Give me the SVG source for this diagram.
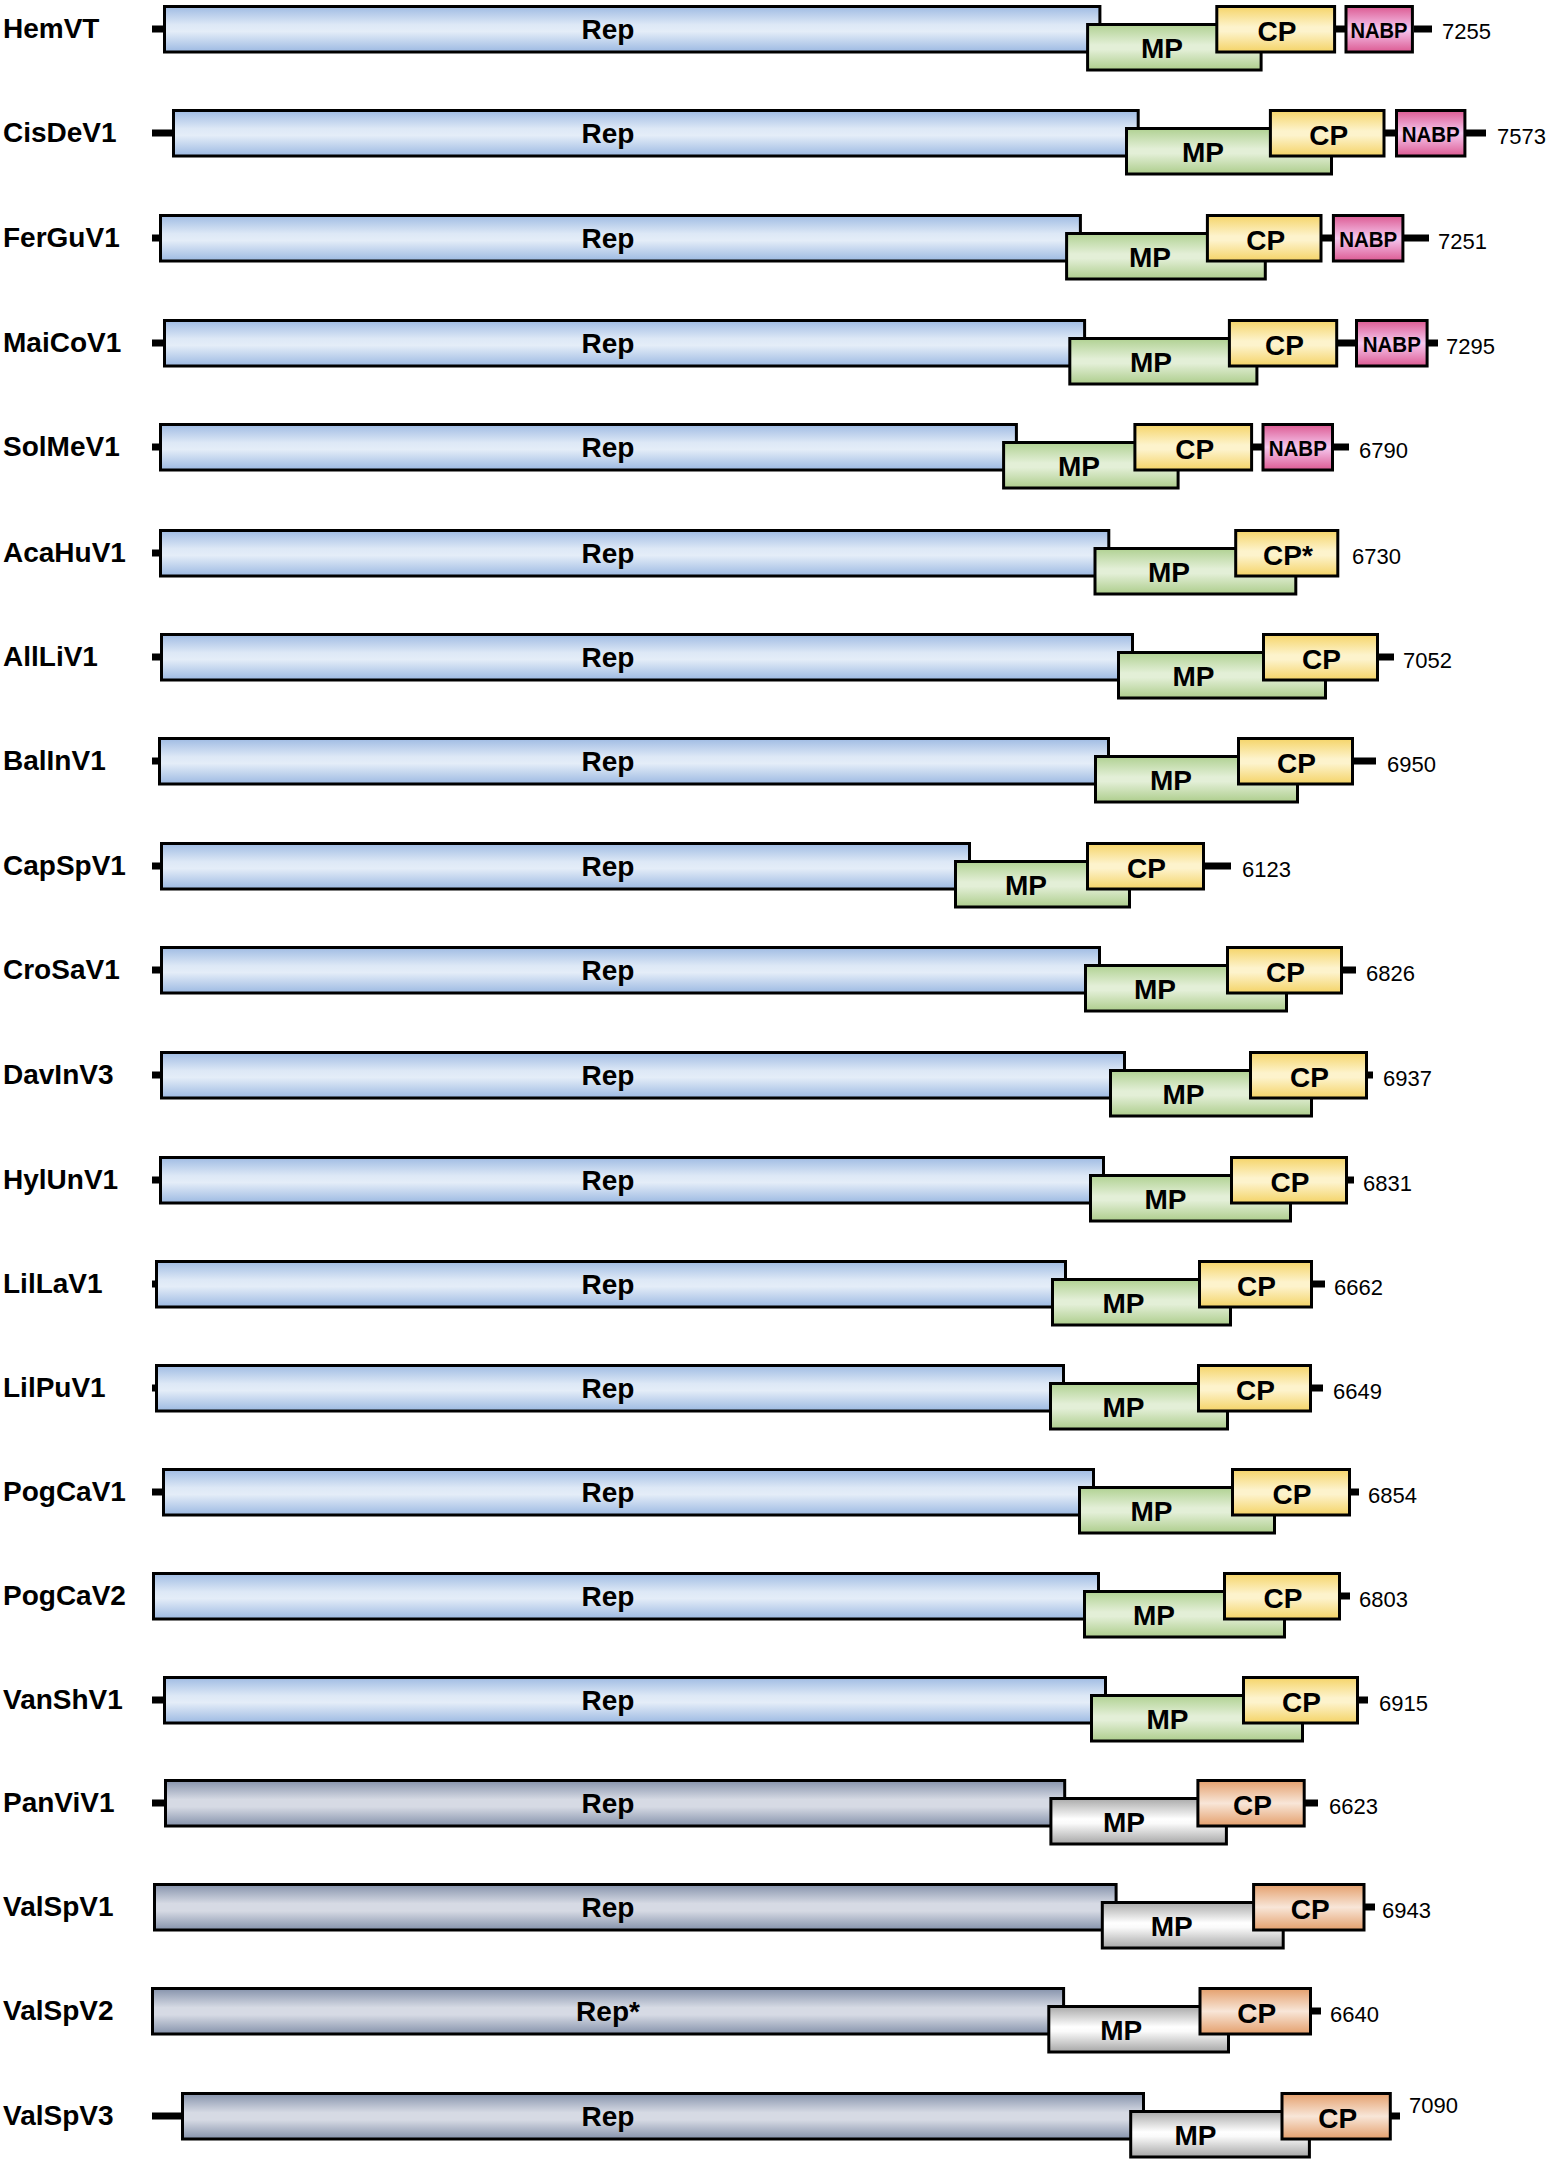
<svg xmlns="http://www.w3.org/2000/svg" width="1549" height="2162" viewBox="0 0 1549 2162">
<defs>
<linearGradient id="gRep" x1="0" y1="0" x2="0" y2="1"><stop offset="0" stop-color="#9fbbe3"/><stop offset="0.4" stop-color="#dde8f6"/><stop offset="0.55" stop-color="#e4edf8"/><stop offset="1" stop-color="#9cb9e2"/></linearGradient>
<linearGradient id="gMP" x1="0" y1="0" x2="0" y2="1"><stop offset="0" stop-color="#b0d192"/><stop offset="0.45" stop-color="#e3efd7"/><stop offset="0.55" stop-color="#e3efd7"/><stop offset="1" stop-color="#adcd8c"/></linearGradient>
<linearGradient id="gCP" x1="0" y1="0" x2="0" y2="1"><stop offset="0" stop-color="#f5d468"/><stop offset="0.45" stop-color="#fdf3cc"/><stop offset="0.55" stop-color="#fdf3cc"/><stop offset="1" stop-color="#f4d366"/></linearGradient>
<linearGradient id="gNABP" x1="0" y1="0" x2="0" y2="1"><stop offset="0" stop-color="#dc5a92"/><stop offset="0.5" stop-color="#f6c8ef"/><stop offset="1" stop-color="#dc5a92"/></linearGradient>
<linearGradient id="gRepG" x1="0" y1="0" x2="0" y2="1"><stop offset="0" stop-color="#8592ab"/><stop offset="0.42" stop-color="#d6dae4"/><stop offset="0.58" stop-color="#d6dae4"/><stop offset="1" stop-color="#8592ab"/></linearGradient>
<linearGradient id="gMPG" x1="0" y1="0" x2="0" y2="1"><stop offset="0" stop-color="#a9a9a9"/><stop offset="0.45" stop-color="#ffffff"/><stop offset="0.55" stop-color="#fafafa"/><stop offset="1" stop-color="#a6a6a6"/></linearGradient>
<linearGradient id="gCPO" x1="0" y1="0" x2="0" y2="1"><stop offset="0" stop-color="#e49f6c"/><stop offset="0.5" stop-color="#f8e6d8"/><stop offset="1" stop-color="#e49f6c"/></linearGradient>
</defs>
<style>
.rep,.mp,.cp,.nabp,.repg,.mpg,.cpo{stroke:#000;stroke-width:3}
.rep{fill:url(#gRep)}
.mp{fill:url(#gMP)}
.cp{fill:url(#gCP)}
.nabp{fill:url(#gNABP)}
.repg{fill:url(#gRepG)}
.mpg{fill:url(#gMPG)}
.cpo{fill:url(#gCPO)}
.ln{stroke:#000;stroke-width:7;fill:none}
text{font-family:"Liberation Sans",Arial,sans-serif;fill:#000}
.lab{font-size:28px;font-weight:bold}
.in{font-size:28px;font-weight:bold;text-anchor:middle}
.nb{font-size:22px;font-weight:bold;text-anchor:middle}
.num{font-size:22px}
</style>
<rect width="1549" height="2162" fill="#fff"/>
<g id="connectors">
<path class="ln" d="M152 29H163M1336 29H1345M1414 29H1432"/>
<path class="ln" d="M152 133H172M1385 133H1395M1466 133H1486"/>
<path class="ln" d="M152 238H159M1322 238H1332M1404 238H1429"/>
<path class="ln" d="M152 343H163M1338 343H1355M1428 343H1438"/>
<path class="ln" d="M152 447H159M1253 447H1262M1334 447H1349"/>
<path class="ln" d="M152 553H159"/>
<path class="ln" d="M152 657H160M1379 657H1394"/>
<path class="ln" d="M152 761H158M1354 761H1376"/>
<path class="ln" d="M152 866H160M1205 866H1231"/>
<path class="ln" d="M152 970H160M1343 970H1356"/>
<path class="ln" d="M152 1075H160M1368 1075H1373"/>
<path class="ln" d="M152 1180H159M1348 1180H1354"/>
<path class="ln" d="M152 1284H155M1313 1284H1325"/>
<path class="ln" d="M152 1388H155M1312 1388H1323"/>
<path class="ln" d="M152 1492H162M1351 1492H1359"/>
<path class="ln" d="M1341 1596H1350"/>
<path class="ln" d="M152 1700H163M1359 1700H1368"/>
<path class="ln" d="M152 1803H164M1305 1803H1318"/>
<path class="ln" d="M1365 1907H1375"/>
<path class="ln" d="M1312 2011H1321"/>
<path class="ln" d="M152 2116H181M1391 2116H1400"/>
</g>
<g id="HemVT">
<text class="lab" x="3" y="38">HemVT</text>
<g id="HemVT-Rep"><rect class="rep" x="164.5" y="6.5" width="935.4" height="45.5"/><text class="in" x="608" y="39">Rep</text></g>
<g id="HemVT-MP"><rect class="mp" x="1087.6" y="24.5" width="173.5" height="45.5"/><text class="in" x="1162" y="57.5">MP</text></g>
<g id="HemVT-CP"><rect class="cp" x="1216.8" y="6.5" width="117.8" height="45.5"/><text class="in" x="1277" y="41">CP</text></g>
<g id="HemVT-NABP"><rect class="nabp" x="1346" y="6.5" width="66.4" height="45.5"/><text class="nb" x="1379" y="38" textLength="57" lengthAdjust="spacingAndGlyphs">NABP</text></g>
<text class="num" x="1442" y="39">7255</text>
</g>
<g id="CisDeV1">
<text class="lab" x="3" y="142">CisDeV1</text>
<g id="CisDeV1-Rep"><rect class="rep" x="173.5" y="110.5" width="964.7" height="45.5"/><text class="in" x="608" y="143">Rep</text></g>
<g id="CisDeV1-MP"><rect class="mp" x="1126.5" y="128.5" width="205" height="45.5"/><text class="in" x="1203" y="161.5">MP</text></g>
<g id="CisDeV1-CP"><rect class="cp" x="1270.4" y="110.5" width="113.6" height="45.5"/><text class="in" x="1328.7" y="144.5">CP</text></g>
<g id="CisDeV1-NABP"><rect class="nabp" x="1396.5" y="110.5" width="68.4" height="45.5"/><text class="nb" x="1430.7" y="142" textLength="58" lengthAdjust="spacingAndGlyphs">NABP</text></g>
<text class="num" x="1497" y="143.5">7573</text>
</g>
<g id="FerGuV1">
<text class="lab" x="3" y="247">FerGuV1</text>
<g id="FerGuV1-Rep"><rect class="rep" x="160.5" y="215.5" width="919.9" height="45.5"/><text class="in" x="608" y="248">Rep</text></g>
<g id="FerGuV1-MP"><rect class="mp" x="1066.6" y="233.5" width="198.7" height="45.5"/><text class="in" x="1150" y="266.5">MP</text></g>
<g id="FerGuV1-CP"><rect class="cp" x="1207.4" y="215.5" width="113.6" height="45.5"/><text class="in" x="1265.7" y="249.5">CP</text></g>
<g id="FerGuV1-NABP"><rect class="nabp" x="1333.4" y="215.5" width="69.5" height="45.5"/><text class="nb" x="1368.2" y="247" textLength="58" lengthAdjust="spacingAndGlyphs">NABP</text></g>
<text class="num" x="1438" y="248.5">7251</text>
</g>
<g id="MaiCoV1">
<text class="lab" x="3" y="352">MaiCoV1</text>
<g id="MaiCoV1-Rep"><rect class="rep" x="164.5" y="320.5" width="920.1" height="45.5"/><text class="in" x="608" y="353">Rep</text></g>
<g id="MaiCoV1-MP"><rect class="mp" x="1069.8" y="338.5" width="187.1" height="45.5"/><text class="in" x="1151" y="371.5">MP</text></g>
<g id="MaiCoV1-CP"><rect class="cp" x="1229.4" y="320.5" width="107.3" height="45.5"/><text class="in" x="1284.5" y="354.5">CP</text></g>
<g id="MaiCoV1-NABP"><rect class="nabp" x="1356.5" y="320.5" width="70.6" height="45.5"/><text class="nb" x="1391.8" y="352" textLength="58" lengthAdjust="spacingAndGlyphs">NABP</text></g>
<text class="num" x="1446" y="353.5">7295</text>
</g>
<g id="SolMeV1">
<text class="lab" x="3" y="456">SolMeV1</text>
<g id="SolMeV1-Rep"><rect class="rep" x="160.5" y="424.5" width="855.9" height="45.5"/><text class="in" x="608" y="457">Rep</text></g>
<g id="SolMeV1-MP"><rect class="mp" x="1003.6" y="442.5" width="174.5" height="45.5"/><text class="in" x="1079" y="475.5">MP</text></g>
<g id="SolMeV1-CP"><rect class="cp" x="1134.9" y="424.5" width="116.7" height="45.5"/><text class="in" x="1194.8" y="458.5">CP</text></g>
<g id="SolMeV1-NABP"><rect class="nabp" x="1263" y="424.5" width="69.5" height="45.5"/><text class="nb" x="1297.8" y="456" textLength="58" lengthAdjust="spacingAndGlyphs">NABP</text></g>
<text class="num" x="1359" y="457.5">6790</text>
</g>
<g id="AcaHuV1">
<text class="lab" x="3" y="562">AcaHuV1</text>
<g id="AcaHuV1-Rep"><rect class="rep" x="160.5" y="530.5" width="948.3" height="45.5"/><text class="in" x="608" y="563">Rep</text></g>
<g id="AcaHuV1-MP"><rect class="mp" x="1095" y="548.5" width="200.8" height="45.5"/><text class="in" x="1169" y="581.5">MP</text></g>
<g id="AcaHuV1-CP"><rect class="cp" x="1235.7" y="530.5" width="102.1" height="45.5"/><text class="in" x="1288" y="564.5">CP*</text></g>
<text class="num" x="1352" y="563.5">6730</text>
</g>
<g id="AllLiV1">
<text class="lab" x="3" y="666">AllLiV1</text>
<g id="AllLiV1-Rep"><rect class="rep" x="161.5" y="634.5" width="971" height="45.5"/><text class="in" x="608" y="667">Rep</text></g>
<g id="AllLiV1-MP"><rect class="mp" x="1118.5" y="652.5" width="207" height="45.5"/><text class="in" x="1193.5" y="685.5">MP</text></g>
<g id="AllLiV1-CP"><rect class="cp" x="1263.5" y="634.5" width="114" height="45.5"/><text class="in" x="1321.5" y="668.5">CP</text></g>
<text class="num" x="1403" y="667.5">7052</text>
</g>
<g id="BalInV1">
<text class="lab" x="3" y="770">BalInV1</text>
<g id="BalInV1-Rep"><rect class="rep" x="159.5" y="738.5" width="949" height="45.5"/><text class="in" x="608" y="771">Rep</text></g>
<g id="BalInV1-MP"><rect class="mp" x="1095.5" y="756.5" width="202" height="45.5"/><text class="in" x="1171" y="789.5">MP</text></g>
<g id="BalInV1-CP"><rect class="cp" x="1238.5" y="738.5" width="114" height="45.5"/><text class="in" x="1296.5" y="772.5">CP</text></g>
<text class="num" x="1387" y="771.5">6950</text>
</g>
<g id="CapSpV1">
<text class="lab" x="3" y="875">CapSpV1</text>
<g id="CapSpV1-Rep"><rect class="rep" x="161.5" y="843.5" width="808" height="45.5"/><text class="in" x="608" y="876">Rep</text></g>
<g id="CapSpV1-MP"><rect class="mp" x="955.5" y="861.5" width="174" height="45.5"/><text class="in" x="1026" y="894.5">MP</text></g>
<g id="CapSpV1-CP"><rect class="cp" x="1087.5" y="843.5" width="116" height="45.5"/><text class="in" x="1146.5" y="877.5">CP</text></g>
<text class="num" x="1242" y="876.5">6123</text>
</g>
<g id="CroSaV1">
<text class="lab" x="3" y="979">CroSaV1</text>
<g id="CroSaV1-Rep"><rect class="rep" x="161.5" y="947.5" width="938" height="45.5"/><text class="in" x="608" y="980">Rep</text></g>
<g id="CroSaV1-MP"><rect class="mp" x="1085.5" y="965.5" width="201" height="45.5"/><text class="in" x="1155" y="998.5">MP</text></g>
<g id="CroSaV1-CP"><rect class="cp" x="1227.5" y="947.5" width="114" height="45.5"/><text class="in" x="1285.5" y="981.5">CP</text></g>
<text class="num" x="1366" y="980.5">6826</text>
</g>
<g id="DavInV3">
<text class="lab" x="3" y="1084">DavInV3</text>
<g id="DavInV3-Rep"><rect class="rep" x="161.5" y="1052.5" width="963" height="45.5"/><text class="in" x="608" y="1085">Rep</text></g>
<g id="DavInV3-MP"><rect class="mp" x="1110.5" y="1070.5" width="201" height="45.5"/><text class="in" x="1183.5" y="1103.5">MP</text></g>
<g id="DavInV3-CP"><rect class="cp" x="1250.5" y="1052.5" width="116" height="45.5"/><text class="in" x="1309.5" y="1086.5">CP</text></g>
<text class="num" x="1383" y="1085.5">6937</text>
</g>
<g id="HylUnV1">
<text class="lab" x="3" y="1189">HylUnV1</text>
<g id="HylUnV1-Rep"><rect class="rep" x="160.5" y="1157.5" width="943" height="45.5"/><text class="in" x="608" y="1190">Rep</text></g>
<g id="HylUnV1-MP"><rect class="mp" x="1090.5" y="1175.5" width="200" height="45.5"/><text class="in" x="1165.5" y="1208.5">MP</text></g>
<g id="HylUnV1-CP"><rect class="cp" x="1231.5" y="1157.5" width="115" height="45.5"/><text class="in" x="1290" y="1191.5">CP</text></g>
<text class="num" x="1363" y="1190.5">6831</text>
</g>
<g id="LilLaV1">
<text class="lab" x="3" y="1293">LilLaV1</text>
<g id="LilLaV1-Rep"><rect class="rep" x="156.5" y="1261.5" width="909" height="45.5"/><text class="in" x="608" y="1294">Rep</text></g>
<g id="LilLaV1-MP"><rect class="mp" x="1052.5" y="1279.5" width="178" height="45.5"/><text class="in" x="1123.5" y="1312.5">MP</text></g>
<g id="LilLaV1-CP"><rect class="cp" x="1199.5" y="1261.5" width="112" height="45.5"/><text class="in" x="1256.5" y="1295.5">CP</text></g>
<text class="num" x="1334" y="1294.5">6662</text>
</g>
<g id="LilPuV1">
<text class="lab" x="3" y="1397">LilPuV1</text>
<g id="LilPuV1-Rep"><rect class="rep" x="156.5" y="1365.5" width="907" height="45.5"/><text class="in" x="608" y="1398">Rep</text></g>
<g id="LilPuV1-MP"><rect class="mp" x="1050.5" y="1383.5" width="177" height="45.5"/><text class="in" x="1123.5" y="1416.5">MP</text></g>
<g id="LilPuV1-CP"><rect class="cp" x="1198.5" y="1365.5" width="112" height="45.5"/><text class="in" x="1255.5" y="1399.5">CP</text></g>
<text class="num" x="1333" y="1398.5">6649</text>
</g>
<g id="PogCaV1">
<text class="lab" x="3" y="1501">PogCaV1</text>
<g id="PogCaV1-Rep"><rect class="rep" x="163.5" y="1469.5" width="930" height="45.5"/><text class="in" x="608" y="1502">Rep</text></g>
<g id="PogCaV1-MP"><rect class="mp" x="1079.5" y="1487.5" width="195" height="45.5"/><text class="in" x="1151.5" y="1520.5">MP</text></g>
<g id="PogCaV1-CP"><rect class="cp" x="1232.5" y="1469.5" width="117" height="45.5"/><text class="in" x="1292" y="1503.5">CP</text></g>
<text class="num" x="1368" y="1502.5">6854</text>
</g>
<g id="PogCaV2">
<text class="lab" x="3" y="1605">PogCaV2</text>
<g id="PogCaV2-Rep"><rect class="rep" x="153.5" y="1573.5" width="945" height="45.5"/><text class="in" x="608" y="1606">Rep</text></g>
<g id="PogCaV2-MP"><rect class="mp" x="1084.5" y="1591.5" width="200" height="45.5"/><text class="in" x="1154" y="1624.5">MP</text></g>
<g id="PogCaV2-CP"><rect class="cp" x="1224.5" y="1573.5" width="115" height="45.5"/><text class="in" x="1283" y="1607.5">CP</text></g>
<text class="num" x="1359" y="1606.5">6803</text>
</g>
<g id="VanShV1">
<text class="lab" x="3" y="1709">VanShV1</text>
<g id="VanShV1-Rep"><rect class="rep" x="164.5" y="1677.5" width="941" height="45.5"/><text class="in" x="608" y="1710">Rep</text></g>
<g id="VanShV1-MP"><rect class="mp" x="1091.5" y="1695.5" width="211" height="45.5"/><text class="in" x="1167.5" y="1728.5">MP</text></g>
<g id="VanShV1-CP"><rect class="cp" x="1243.5" y="1677.5" width="114" height="45.5"/><text class="in" x="1301.5" y="1711.5">CP</text></g>
<text class="num" x="1379" y="1710.5">6915</text>
</g>
<g id="PanViV1">
<text class="lab" x="3" y="1812">PanViV1</text>
<g id="PanViV1-Rep"><rect class="repg" x="165.5" y="1780.5" width="899.2" height="45.5"/><text class="in" x="608" y="1813">Rep</text></g>
<g id="PanViV1-MP"><rect class="mpg" x="1050.9" y="1798.5" width="175.5" height="45.5"/><text class="in" x="1124" y="1831.5">MP</text></g>
<g id="PanViV1-CP"><rect class="cpo" x="1197.9" y="1780.5" width="106.3" height="45.5"/><text class="in" x="1252.5" y="1814.5">CP</text></g>
<text class="num" x="1329" y="1813.5">6623</text>
</g>
<g id="ValSpV1">
<text class="lab" x="3" y="1916">ValSpV1</text>
<g id="ValSpV1-Rep"><rect class="repg" x="154.5" y="1884.5" width="961.6" height="45.5"/><text class="in" x="608" y="1917">Rep</text></g>
<g id="ValSpV1-MP"><rect class="mpg" x="1102.3" y="1902.5" width="180.9" height="45.5"/><text class="in" x="1171.7" y="1935.5">MP</text></g>
<g id="ValSpV1-CP"><rect class="cpo" x="1253.6" y="1884.5" width="110.4" height="45.5"/><text class="in" x="1310.3" y="1918.5">CP</text></g>
<text class="num" x="1382" y="1917.5">6943</text>
</g>
<g id="ValSpV2">
<text class="lab" x="3" y="2020">ValSpV2</text>
<g id="ValSpV2-Rep"><rect class="repg" x="152.5" y="1988.5" width="911.1" height="45.5"/><text class="in" x="608" y="2021">Rep*</text></g>
<g id="ValSpV2-MP"><rect class="mpg" x="1048.8" y="2006.5" width="179.7" height="45.5"/><text class="in" x="1121.3" y="2039.5">MP</text></g>
<g id="ValSpV2-CP"><rect class="cpo" x="1200" y="1988.5" width="110.5" height="45.5"/><text class="in" x="1256.8" y="2022.5">CP</text></g>
<text class="num" x="1330" y="2021.5">6640</text>
</g>
<g id="ValSpV3">
<text class="lab" x="3" y="2125">ValSpV3</text>
<g id="ValSpV3-Rep"><rect class="repg" x="182.5" y="2093.5" width="961" height="45.5"/><text class="in" x="608" y="2126">Rep</text></g>
<g id="ValSpV3-MP"><rect class="mpg" x="1130.7" y="2111.5" width="178.7" height="45.5"/><text class="in" x="1195.4" y="2144.5">MP</text></g>
<g id="ValSpV3-CP"><rect class="cpo" x="1282" y="2093.5" width="108.3" height="45.5"/><text class="in" x="1337.7" y="2127.5">CP</text></g>
<text class="num" x="1409" y="2113">7090</text>
</g>
</svg>
